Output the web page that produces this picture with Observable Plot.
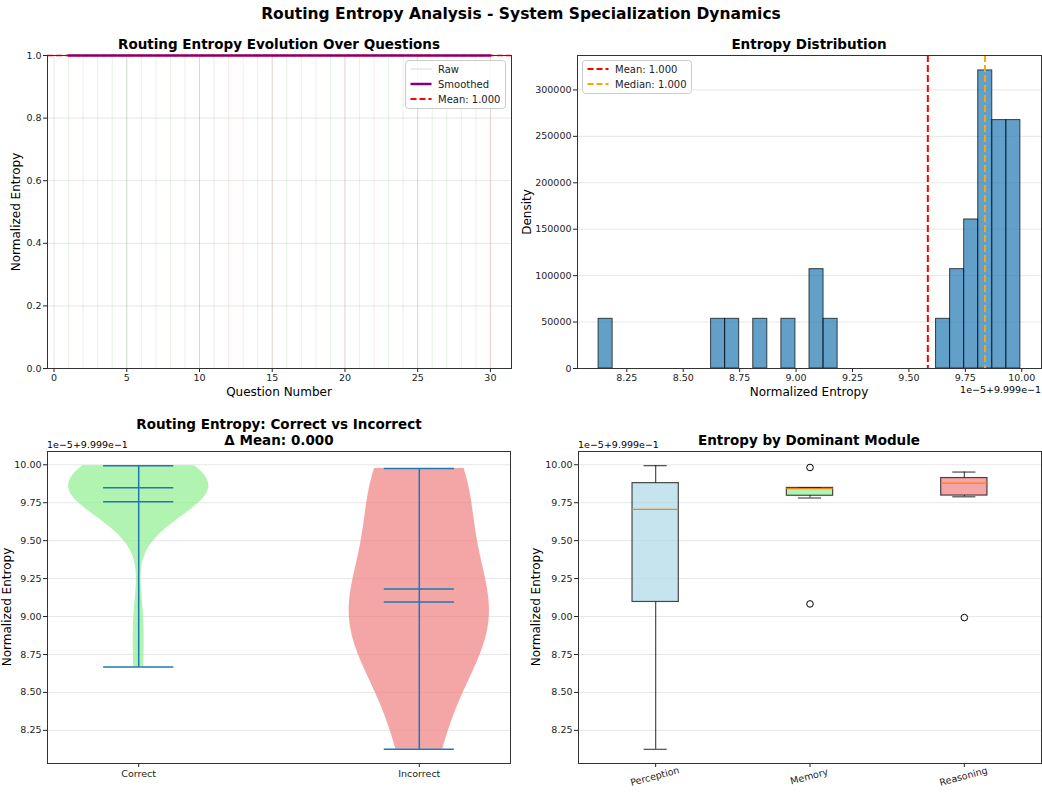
<!DOCTYPE html>
<html><head><meta charset="utf-8">
<script src="https://cdn.jsdelivr.net/npm/d3@7"></script>
<script src="https://cdn.jsdelivr.net/npm/@observablehq/plot@0.6"></script>
<style>
body{margin:0;background:#fff;}
#fig{position:relative;width:1042px;height:793px;font-family:"DejaVu Sans",sans-serif;overflow:hidden;background:#fff;}
.t{position:absolute;white-space:nowrap;color:#000;line-height:1;}
</style></head><body><div id="fig"></div>
<script>
// ---------------- DATA ----------------
const questionNumbers = [1,2,3,4,5,6,7,8,9,10,11,12,13,14,15,16,17,18,19,20,21,22,23,24,25,26,27,28,29,30];
// normalized entropy = 0.9999 + value * 1e-5
const entropyOffsets = [9.846,9.706,9.925,9.650,9.848,9.994,9.789,8.667,9.952,9.096,
                        9.840,8.125,9.083,9.834,9.975,9.900,9.690,8.993,9.850,8.840,
                        9.982,9.781,9.879,9.910,8.710,9.865,9.805,9.150,9.950,9.879];
const answeredCorrectly = [true,true,true,true,true,true,true,true,true,false,
                           true,false,false,true,false,true,true,true,true,false,
                           true,false,true,true,false,true,true,false,true,false];
const dominantModules = ["Memory","Perception","Reasoning","Perception","Memory","Perception","Reasoning","Perception","Reasoning","Perception",
                         "Memory","Perception","Memory","Perception","Perception","Reasoning","Perception","Reasoning","Perception","Perception",
                         "Memory","Memory","Reasoning","Perception","Perception","Perception","Reasoning","Perception","Perception","Perception"];
const moduleOrder = ["Perception","Memory","Reasoning"];
const moduleColors = ["lightblue","lightgreen","lightcoral"];
const groupLabels = ["Correct","Incorrect"];
const groupColors = ["lightgreen","lightcoral"];
const questionTicks = [0,5,10,15,20,25,30];
const normTicks = [0,0.2,0.4,0.6,0.8,1.0];
const entropyTicks = [8.25,8.5,8.75,9.0,9.25,9.5,9.75,10.0];
const densityTicks = [0,50000,100000,150000,200000,250000,300000];
const OFFSET_BASE = 0.9999, OFFSET_SCALE = 1e-5;
const offsetLabel = "1e\u22125+9.999e\u22121";
const NBINS = 30;

// ---------------- HELPERS ----------------
const fig = document.getElementById("fig");
function place(el, left, top){ el.style.position="absolute"; el.style.left=left+"px"; el.style.top=top+"px"; fig.appendChild(el); }
function text(str, x, y, {size=12, weight="normal", anchor="middle", rotate=0}={}) {
  const d = document.createElement("div");
  d.className = "t"; d.textContent = str;
  d.style.fontSize = size+"px"; d.style.fontWeight = weight;
  const tx = anchor==="middle" ? "-50%" : anchor==="end" ? "-100%" : "0";
  d.style.transform = `translate(${tx},-50%) rotate(${rotate}deg)`;
  place(d, x, y);
}
const baseStyle = {fontFamily:"'DejaVu Sans', sans-serif", fontSize:"9.5px", color:"#222", background:"transparent", overflow:"visible"};
const gridStroke = {stroke:"#b0b0b0", strokeOpacity:0.3, strokeWidth:1};
const fmt2 = d3.format(".2f");
const fmt3 = v => v.toFixed(3);

const allOffsets = entropyOffsets;
const vMin = d3.min(allOffsets), vMax = d3.max(allOffsets), vR = vMax - vMin;
const entropyDomain = [vMin - 0.05*vR, vMax + 0.05*vR];

// ---------------- PANEL 1 ----------------
const qData = questionNumbers.map((q,i)=>({q, e: OFFSET_BASE + entropyOffsets[i]*OFFSET_SCALE, c: answeredCorrectly[i]}));
const meanNorm = d3.mean(qData, d=>d.e);
const qMin = d3.min(questionNumbers), qMax = d3.max(questionNumbers), qR = qMax - qMin;
const p1 = Plot.plot({
  width:521, height:372, marginLeft:47, marginRight:10, marginTop:25, marginBottom:34,
  style: baseStyle,
  x:{domain:[qMin-0.05*qR, qMax+0.05*qR], ticks:questionTicks, tickFormat:d3.format("d"), tickSize:4, tickPadding:2, label:null},
  y:{domain:[0,1], ticks:normTicks, tickFormat:d3.format(".1f"), tickSize:4, tickPadding:2, label:null},
  marks:[
    Plot.ruleX(questionTicks, gridStroke),
    Plot.ruleY(normTicks, gridStroke),
    Plot.ruleX(qData, {x:"q", stroke:d=>d.c?"green":"red", strokeOpacity:0.1, strokeWidth:1}),
    Plot.lineY(qData, {x:"q", y:"e", stroke:"gray", strokeOpacity:0.3, strokeWidth:1}),
    Plot.lineY(qData, Plot.windowY({k:5, anchor:"middle"}, {x:"q", y:"e", stroke:"purple", strokeWidth:2.5})),
    Plot.ruleY([meanNorm], {stroke:"red", strokeDasharray:"6,3", strokeWidth:1.5}),
    Plot.frame({stroke:"#333"})
  ]
});
place(p1, 0, 30);

// ---------------- PANEL 2 ----------------
const thresholds = d3.range(1, NBINS).map(i => vMin + i*vR/NBINS);
const bins = d3.bin().domain([vMin, vMax]).thresholds(thresholds)(allOffsets);
const N = allOffsets.length;
const histData = bins.map(b => ({x1:b.x0, x2:b.x1, y: b.length / (N * (b.x1-b.x0) * OFFSET_SCALE)})).filter(d=>d.y>0);
const yMaxHist = d3.max(histData, d=>d.y);
const meanOff = d3.mean(allOffsets), medianOff = d3.median(allOffsets);
const p2 = Plot.plot({
  width:522, height:372, marginLeft:57, marginRight:1, marginTop:25, marginBottom:34,
  style: baseStyle,
  x:{domain:entropyDomain, ticks:entropyTicks, tickFormat:fmt2, tickSize:4, tickPadding:2, label:null},
  y:{domain:[0, yMaxHist*1.05], ticks:densityTicks, tickFormat:d3.format("d"), tickSize:4, tickPadding:2, label:null},
  marks:[
    Plot.ruleY(densityTicks, gridStroke),
    Plot.rect(histData, {x1:"x1", x2:"x2", y1:0, y2:"y", fill:"#1f77b4", fillOpacity:0.7, stroke:"black", strokeOpacity:0.7, strokeWidth:1, inset:0}),
    Plot.ruleX([meanOff], {stroke:"red", strokeDasharray:"7,3", strokeWidth:2}),
    Plot.ruleX([medianOff], {stroke:"orange", strokeDasharray:"7,3", strokeWidth:2}),
    Plot.frame({stroke:"#333"})
  ]
});
place(p2, 520, 30);

// ---------------- PANEL 3 ----------------
function violin(vals, pos) {
  const n = vals.length, sd = d3.deviation(vals), bw = sd * Math.pow(n, -1/5);
  const lo = d3.min(vals), hi = d3.max(vals);
  const pts = d3.range(100).map(i => lo + (hi-lo)*i/99);
  const dens = pts.map(y => d3.mean(vals, v => Math.exp(-0.5*((y-v)/bw)**2)));
  const m = d3.max(dens);
  return {pos, lo, hi, mean:d3.mean(vals), median:d3.median(vals),
          profile: pts.map((y,i)=>({y, x1: pos - 0.25*dens[i]/m, x2: pos + 0.25*dens[i]/m}))};
}
const groups = groupLabels.map((g,i)=>{
  const vals = entropyOffsets.filter((v,j)=> answeredCorrectly[j] === (i===0));
  return Object.assign(violin(vals, i+1), {color: groupColors[i]});
});
const vlines = [];
groups.forEach(g => { [g.lo, g.hi, g.mean, g.median].forEach(y => vlines.push({y, x1:g.pos-0.125, x2:g.pos+0.125})); });
const p3 = Plot.plot({
  width:521, height:393, marginLeft:47, marginRight:11, marginTop:51, marginBottom:30,
  style: baseStyle,
  x:{domain:[0.675, 2.325], ticks:[1,2], tickFormat:i=>groupLabels[i-1], tickSize:4, tickPadding:3, label:null},
  y:{domain:entropyDomain, ticks:entropyTicks, tickFormat:fmt2, tickSize:4, tickPadding:2, label:null},
  marks:[
    Plot.ruleY(entropyTicks, gridStroke),
    ...groups.map(g => Plot.areaX(g.profile, {y:"y", x1:"x1", x2:"x2", fill:g.color, fillOpacity:0.7})),
    Plot.ruleX(groups, {x:"pos", y1:"lo", y2:"hi", stroke:"#1f77b4", strokeWidth:1.5}),
    Plot.ruleY(vlines, {y:"y", x1:"x1", x2:"x2", stroke:"#1f77b4", strokeWidth:1.5}),
    Plot.frame({stroke:"#333"})
  ]
});
place(p3, 0, 400);

// ---------------- PANEL 4 ----------------
const boxStats = moduleOrder.map((m,i)=>{
  const vals = entropyOffsets.filter((v,j)=>dominantModules[j]===m).sort(d3.ascending);
  const q1 = d3.quantile(vals,0.25), med = d3.quantile(vals,0.5), q3 = d3.quantile(vals,0.75);
  const iqr = q3 - q1;
  const lo = d3.min(vals.filter(v=>v>=q1-1.5*iqr)), hi = d3.max(vals.filter(v=>v<=q3+1.5*iqr));
  return {pos:i+1, q1, med, q3, lo, hi, out: vals.filter(v=>v<lo||v>hi), color: moduleColors[i], name:m};
});
const whiskers = boxStats.flatMap(b=>[{x:b.pos, y1:b.lo, y2:b.q1},{x:b.pos, y1:b.q3, y2:b.hi}]);
const caps = boxStats.flatMap(b=>[{y:b.lo, x1:b.pos-0.075, x2:b.pos+0.075},{y:b.hi, x1:b.pos-0.075, x2:b.pos+0.075}]);
const fliers = boxStats.flatMap(b=>b.out.map(v=>({x:b.pos, y:v})));
const p4 = Plot.plot({
  width:522, height:393, marginLeft:58, marginRight:1, marginTop:51, marginBottom:30,
  style: baseStyle,
  x:{domain:[0.5,3.5], ticks:[1,2,3], tickFormat:()=>"", tickSize:4, label:null},
  y:{domain:entropyDomain, ticks:entropyTicks, tickFormat:fmt2, tickSize:4, tickPadding:2, label:null},
  marks:[
    Plot.ruleY(entropyTicks, gridStroke),
    Plot.ruleX(whiskers, {x:"x", y1:"y1", y2:"y2", stroke:"black", strokeOpacity:0.7, strokeWidth:1.2}),
    Plot.ruleY(caps, {y:"y", x1:"x1", x2:"x2", stroke:"black", strokeOpacity:0.7, strokeWidth:1.2}),
    Plot.rect(boxStats, {x1:d=>d.pos-0.15, x2:d=>d.pos+0.15, y1:"q1", y2:"q3", fill:"color", fillOpacity:0.7, stroke:"black", strokeOpacity:0.7, strokeWidth:1.2}),
    Plot.ruleY(boxStats, {y:"med", x1:d=>d.pos-0.15, x2:d=>d.pos+0.15, stroke:"#ff7f0e", strokeWidth:1.2}),
    Plot.dot(fliers, {x:"x", y:"y", r:3.3, stroke:"black", fill:"none", strokeWidth:1}),
    Plot.text(boxStats, {x:"pos", text:"name", frameAnchor:"bottom", dy:16, rotate:-15, textAnchor:"middle", fontSize:9.5, fill:"#222"}),
    Plot.frame({stroke:"#333"})
  ]
});
place(p4, 520, 400);

// ---------------- TEXT ----------------
text("Routing Entropy Analysis - System Specialization Dynamics", 521, 15, {size:15.5, weight:"bold"});
text("Routing Entropy Evolution Over Questions", 279, 45, {size:13.5, weight:"bold"});
text("Entropy Distribution", 809, 45, {size:13.5, weight:"bold"});
text("Routing Entropy: Correct vs Incorrect", 279, 425, {size:13.5, weight:"bold"});
const meanDiff = Math.abs(groups[0].mean - groups[1].mean) * OFFSET_SCALE;
text("\u0394 Mean: " + fmt3(meanDiff), 279, 441, {size:13.5, weight:"bold"});
text("Entropy by Dominant Module", 809, 441, {size:13.5, weight:"bold"});

text("Question Number", 279, 392, {size:12});
text("Normalized Entropy", 16, 212, {size:12, rotate:-90});
text("Normalized Entropy", 809, 392, {size:12});
text("Density", 527, 212, {size:12, rotate:-90});
text(offsetLabel, 1041, 390, {size:9.5, anchor:"end"});
text(offsetLabel, 47, 445, {size:9.5, anchor:"start"});
text("Normalized Entropy", 7, 607, {size:12, rotate:-90});
text(offsetLabel, 578, 445, {size:9.5, anchor:"start"});
text("Normalized Entropy", 536, 607, {size:12, rotate:-90});

// ---------------- LEGENDS ----------------
const NS = "http://www.w3.org/2000/svg";
const lg = document.createElementNS(NS, "svg");
lg.setAttribute("width", 1042); lg.setAttribute("height", 793);
lg.style.pointerEvents = "none";
function svgEl(tag, attrs){ const e=document.createElementNS(NS,tag); for(const k in attrs) e.setAttribute(k, attrs[k]); lg.appendChild(e); return e; }
function legend(x, y, w, h, rows){
  svgEl("rect", {x, y, width:w, height:h, rx:3, fill:"white", "fill-opacity":0.8, stroke:"#cccccc"});
  rows.forEach((r,i)=>{
    const yy = y + 8.5 + i*15;
    svgEl("line", {x1:x+5, x2:x+26, y1:yy, y2:yy, stroke:r.stroke, "stroke-width":r.width, "stroke-opacity":r.opacity??1, "stroke-dasharray":r.dash||"none"});
    const t = svgEl("text", {x:x+32.5, y:yy, "dominant-baseline":"central", "font-size":"10px", "font-family":"'DejaVu Sans', sans-serif", fill:"#222"});
    t.textContent = r.label;
  });
}
legend(405.5, 60.5, 100, 48, [
  {label:"Raw", stroke:"gray", width:1, opacity:0.3},
  {label:"Smoothed", stroke:"purple", width:2.5},
  {label:"Mean: " + fmt3(meanNorm), stroke:"red", width:2, dash:"6,3"}
]);
legend(582.5, 60.5, 109, 33, [
  {label:"Mean: " + fmt3(OFFSET_BASE + meanOff*OFFSET_SCALE), stroke:"red", width:2, dash:"6,3"},
  {label:"Median: " + fmt3(OFFSET_BASE + medianOff*OFFSET_SCALE), stroke:"orange", width:2, dash:"6,3"}
]);
place(lg, 0, 0);
</script></body></html>
